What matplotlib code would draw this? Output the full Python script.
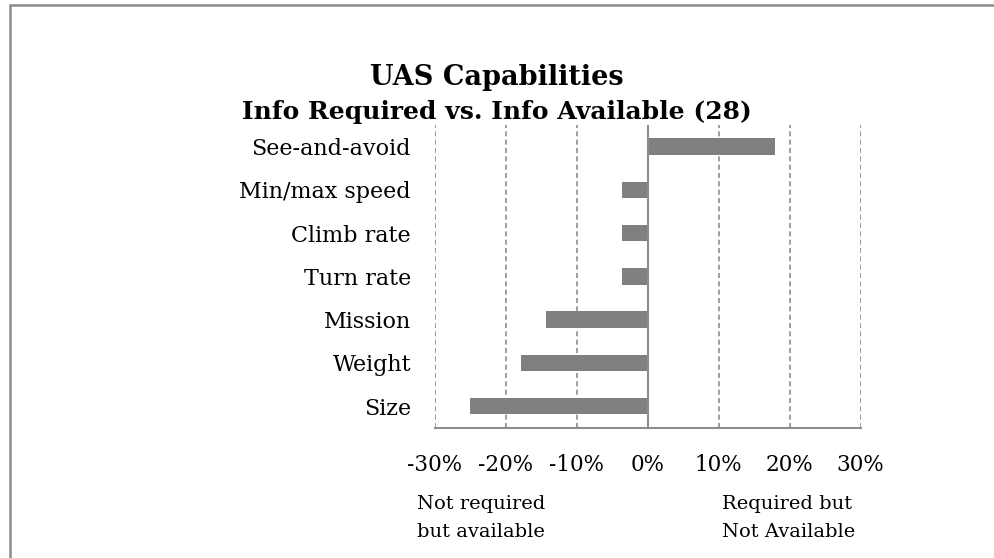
import matplotlib.pyplot as plt
from matplotlib.patches import Rectangle

# values are shares of 28 respondents, in percent
categories = ['See-and-avoid', 'Min/max speed', 'Climb rate', 'Turn rate',
              'Mission', 'Weight', 'Size']
values = [17.9, -3.6, -3.6, -3.6, -14.3, -17.9, -25.0]
xticks = [-30, -20, -10, 0, 10, 20, 30]

plt.rcParams['font.family'] = ['DejaVu Serif']

fig = plt.figure(figsize=(9.94, 5.58), dpi=100)
ax = fig.add_axes([0.4373, 0.2335, 0.4286, 0.5425])

ypos = list(range(len(categories)))[::-1]
ax.barh(ypos, values, height=0.385, color='#808080', zorder=3)

ax.set_xlim(-30, 30)
ax.set_ylim(-0.5, 6.5)
ax.set_xticks(xticks)
ax.set_xticklabels(['%d%%' % t for t in xticks])
ax.set_yticks(ypos)
ax.set_yticklabels(categories)
ax.tick_params(axis='x', length=0, pad=19, labelsize=15.5)
ax.tick_params(axis='y', length=0, pad=17, labelsize=16)

for t in xticks:
    if t != 0:
        ax.axvline(t, color='#8c8c8c', lw=1.2, ls=(0, (3, 2)), zorder=1)
ax.axvline(0, color='#8c8c8c', lw=1.5, zorder=4)

for s in ['top', 'right', 'left']:
    ax.spines[s].set_visible(False)
ax.spines['bottom'].set_color('#8c8c8c')
ax.spines['bottom'].set_linewidth(1.5)

fig.text(0.5, 1 - 85 / 558, 'UAS Capabilities', ha='center', va='baseline',
         fontsize=19.5, fontweight='bold')
fig.text(0.5, 1 - 119 / 558, 'Info Required vs. Info Available (28)',
         ha='center', va='baseline', fontsize=18, fontweight='bold')

fig.text(416.7 / 994, 1 - 509 / 558, 'Not required', ha='left',
         va='baseline', fontsize=14)
fig.text(416.7 / 994, 1 - 537 / 558, 'but available', ha='left',
         va='baseline', fontsize=14)
fig.text(721.7 / 994, 1 - 509 / 558, 'Required but', ha='left',
         va='baseline', fontsize=14)
fig.text(721.7 / 994, 1 - 537 / 558, 'Not Available', ha='left',
         va='baseline', fontsize=14)

# outer chart frame, cut off at right and bottom
fig.patches.append(Rectangle((9.5 / 994, -0.1), 1.1, 1.1 - 5.5 / 558,
                             transform=fig.transFigure, fill=False,
                             edgecolor='#8c8c8c', lw=1.8))

fig.savefig('out.png', dpi=100)
